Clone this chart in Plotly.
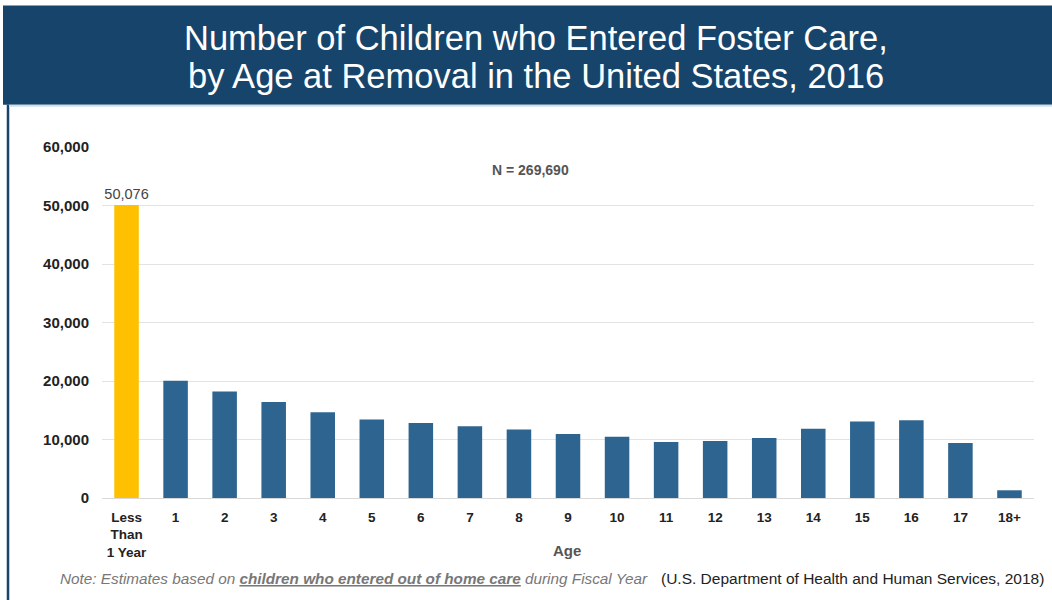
import plotly.graph_objects as go

categories = ["Less<br>Than<br>1 Year", "1", "2", "3", "4", "5", "6", "7", "8", "9",
              "10", "11", "12", "13", "14", "15", "16", "17", "18+"]
values = [50076, 20030, 18220, 16390, 14670, 13420, 12840, 12280, 11710, 10960,
          10450, 9590, 9760, 10270, 11820, 13080, 13300, 9420, 1320]
y_ticks = [0, 10000, 20000, 30000, 40000, 50000, 60000]
title_lines = ["Number of Children who Entered Foster Care,",
               "by Age at Removal in the United States, 2016"]
total_label = "N = 269,690"
x_title = "Age"
note_text = ("<i>Note: Estimates based on <b><u>children who entered out of home care</u></b>"
             " during Fiscal Year</i>")
source_text = "(U.S. Department of Health and Human Services, 2018)"

W, H = 1052, 600
L, R, T, B = 102, 1034, 147.3, 497.7
FONT = "Liberation Sans, Arial"

def px(x):
    return (x - L) / (R - L)

def py(y):
    return (B - y) / (B - T)

bar_colors = ["#FFC000"] + ["#2E6590"] * (len(values) - 1)
text = [f"{values[0]:,}"] + [""] * (len(values) - 1)

fig = go.Figure(go.Bar(
    x=categories, y=values, marker=dict(color=bar_colors, line=dict(width=0)),
    width=0.5, text=text, textposition="outside", cliponaxis=False,
    constraintext="none",
    textfont=dict(family=FONT, size=14.5, color="#444444"),
))

fig.update_layout(
    width=W, height=H,
    margin=dict(l=L, r=W - R, t=T, b=H - B, autoexpand=False),
    paper_bgcolor="white", plot_bgcolor="white",
    showlegend=False, bargap=0.5,
    font=dict(family=FONT, color="#333333"),
    xaxis=dict(
        showgrid=False, showline=False, zeroline=False, ticks="",
        tickfont=dict(size=13.5, color="#222222", family=FONT),
        tickprefix="<b>", ticksuffix="</b>", ticklabelstandoff=9,
    ),
    yaxis=dict(
        range=[0, 60000], tickvals=y_ticks,
        ticktext=[f"<b>{v:,}</b>" for v in y_ticks],
        showgrid=True, gridcolor="#E3E3E3", gridwidth=1,
        zeroline=True, zerolinecolor="#D9D9D9", zerolinewidth=1,
        showline=False, ticks="", ticklabelstandoff=12,
        tickfont=dict(size=15, color="#222222"),
    ),
)

shapes = [
    dict(type="rect", xref="paper", yref="paper",
         x0=px(3), x1=px(1052), y0=py(105), y1=py(6),
         fillcolor="#17446A", line=dict(width=0), layer="above"),
    dict(type="line", xref="paper", yref="paper",
         x0=px(8), x1=px(8), y0=py(105), y1=py(600),
         line=dict(color="#17446A", width=2.5)),
    dict(type="line", xref="paper", yref="paper",
         x0=px(9), x1=px(1052), y0=py(106), y1=py(106),
         line=dict(color="#CFE0EA", width=2)),
]
fig.update_layout(shapes=shapes)

annotations = [
    dict(text=title_lines[0], xref="paper", yref="paper",
         x=px(536), y=py(38), xanchor="center", yanchor="middle", showarrow=False,
         font=dict(size=34.5, color="white", family=FONT)),
    dict(text=title_lines[1], xref="paper", yref="paper",
         x=px(536), y=py(76), xanchor="center", yanchor="middle", showarrow=False,
         font=dict(size=34.5, color="white", family=FONT)),
    dict(text=f"<b>{total_label}</b>", xref="paper", yref="paper",
         x=px(530), y=py(170), xanchor="center", yanchor="middle", showarrow=False,
         font=dict(size=14, color="#555555")),
    dict(text=f"<b>{x_title}</b>", xref="paper", yref="paper",
         x=px(567), y=py(550), xanchor="center", yanchor="middle", showarrow=False,
         font=dict(size=15, color="#555555")),
    dict(text=note_text,
         xref="paper", yref="paper", x=px(58), y=py(578), xanchor="left", yanchor="middle",
         showarrow=False, font=dict(size=15.3, color="#777777", family=FONT)),
    dict(text=source_text,
         xref="paper", yref="paper", x=px(1046), y=py(578), xanchor="right", yanchor="middle",
         showarrow=False, font=dict(size=15.5, color="#222222", family=FONT)),
]
fig.update_layout(annotations=annotations)

fig.write_html("out.html")
